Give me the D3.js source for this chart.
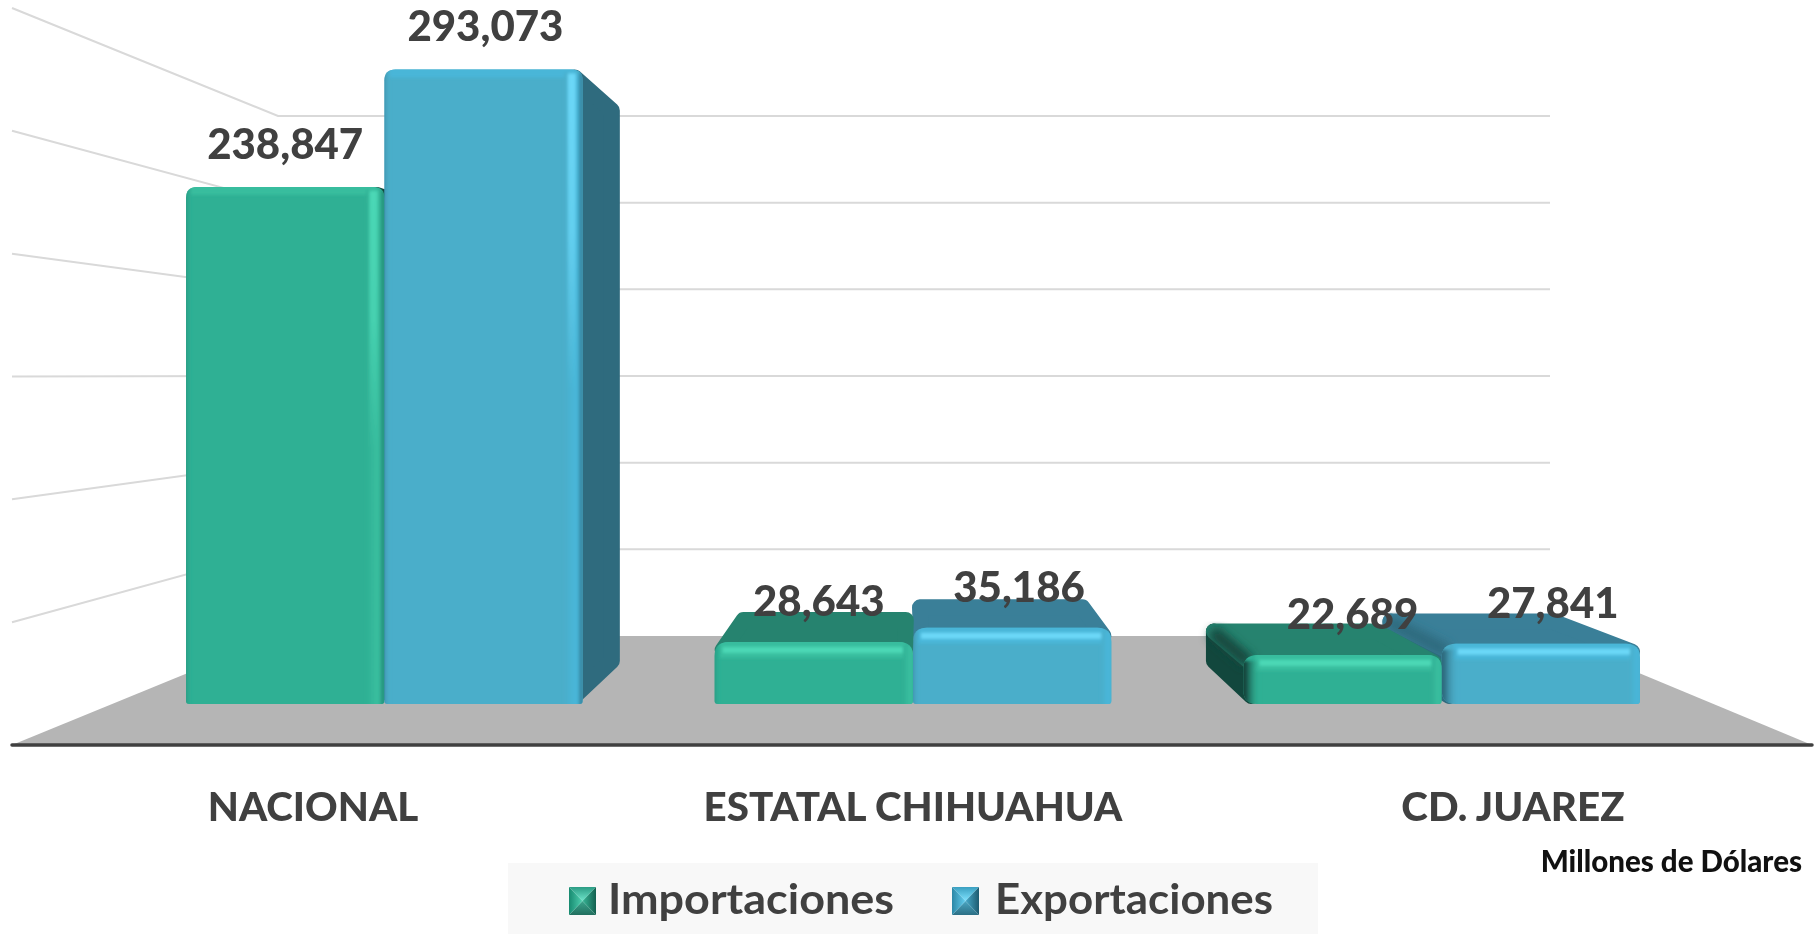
<!DOCTYPE html>
<html><head><meta charset="utf-8">
<script src="https://cdn.jsdelivr.net/npm/d3@7/dist/d3.min.js"></script>
<style>html,body{margin:0;padding:0;background:#fff;overflow:hidden}svg{display:block;filter:blur(0.5px)}text{font-family:Lato,"Open Sans",sans-serif;font-weight:900;fill:#404040}</style>
</head><body><svg id="c" width="1819" height="934"></svg>
<script>
const categories = ["NACIONAL", "ESTATAL CHIHUAHUA", "CD. JUAREZ"];
const seriesNames = ["Importaciones", "Exportaciones"];
const importaciones = [238847, 28643, 22689];
const exportaciones = [293073, 35186, 27841];
const gridTicks = [0, 50000, 100000, 150000, 200000, 250000, 300000];
const unitLabel = "Millones de Dólares";
const palette = {
  Importaciones: {base:"#2fb094", edge:"#38bd9e", hi:"#4bd8b6", top:"#26836f", side:"#12473d", shade:"#1f7f6b", sw:["#2b9c84","#6fe5cb","#226f5f","#3aa58c","#178a70","#4fd0b0","#13604f","#37b596"]},
  Exportaciones: {base:"#4aaeca", edge:"#48b6d8", hi:"#6cd8f8", top:"#3a7f98", side:"#2f6b7e", shade:"#2e6f86", sw:["#3a9fc0","#7fe3ff","#2c6f85","#4aa6c2","#2b87a6","#63cdee","#1e5b70","#46a9c9"]}
};

const svg = d3.select("#c"), defs = svg.append("defs");
const VP = {x:912, y:377}, DEPTH = 0.89;
const wall = {left:12, backL:278, backR:1550, right:1812};
const yBack = d3.scaleLinear().domain([0,300000]).range([636,116]);
const yWall = d3.scaleLinear().domain([0,300000]).range([745,8]);
const yBar  = d3.scaleLinear().domain([0,300000]).range([704,54.5]);
const xCat  = d3.scaleBand().domain(categories).range([186,1640]).paddingInner(0.2495);
const xSer  = d3.scaleBand().domain(seriesNames).range([0,xCat.bandwidth()]);
const xLab  = d3.scalePoint().domain(categories).range([313,1513]);
const back = (x,y)=>[VP.x+(x-VP.x)*DEPTH, VP.y+(y-VP.y)*DEPTH];

defs.append("filter").attr("id","soft").attr("x","-20%").attr("y","-20%").attr("width","140%").attr("height","140%")
  .append("feGaussianBlur").attr("stdDeviation",1.8);
defs.append("filter").attr("id","soft2").attr("x","-40%").attr("y","-40%").attr("width","180%").attr("height","180%")
  .append("feGaussianBlur").attr("stdDeviation",5);

svg.append("polygon").attr("fill","#b5b5b5")
  .attr("points",[[wall.left,yWall(0)],[wall.backL,yBack(0)],[wall.backR,yBack(0)],[wall.right,yWall(0)]].join(" "));
const grid = svg.append("g").attr("stroke","#d9d9d9").attr("stroke-width",2).attr("fill","none");
gridTicks.slice(1).forEach(t=>{
  grid.append("polyline").attr("points",[[wall.left,yWall(t)],[wall.backL,yBack(t)],[wall.backR,yBack(t)]].join(" "));
});
svg.append("line").attr("x1",wall.left).attr("x2",wall.right).attr("y1",yWall(0)).attr("y2",yWall(0))
  .attr("stroke","#404040").attr("stroke-width",3.5).attr("stroke-linecap","round");

function grad(id,dir,stops){
  const g=defs.append("linearGradient").attr("id",id)
    .attr("x1",0).attr("y1",0).attr("x2",dir==="h"?1:0).attr("y2",dir==="h"?0:1);
  stops.forEach(s=>g.append("stop").attr("offset",s[0]).attr("stop-color",s[1]).attr("stop-opacity",s[2]===undefined?1:s[2]));
  return `url(#${id})`;
}
const bars=[];
categories.forEach((c,i)=>{
  seriesNames.forEach((s,j)=>{
    const v=(j===0?importaciones:exportaciones)[i];
    const x0=xCat(c)+xSer(s), x1=x0+xSer.bandwidth();
    bars.push({c,s,v,i,j,x0,x1,top:yBar(v),bottom:yBar(0),col:palette[s]});
  });
});
bars.sort((a,b)=>Math.abs((b.x0+b.x1)/2-VP.x)-Math.abs((a.x0+a.x1)/2-VP.x));

bars.forEach((b,k)=>{
  const g=svg.append("g"), P=b.col;
  const {x0,x1,top,bottom}=b;
  const showTop=top>VP.y, showRight=x1<VP.x-2, showLeft=x0>VP.x+2;
  const ins=8;
  const face=(pts,fill)=>g.append("polygon").attr("points",pts.join(" ")).attr("fill",fill)
     .attr("stroke",fill).attr("stroke-width",16).attr("stroke-linejoin","round");
  if(showRight) face([[x1-ins,top+ins],back(x1-ins,top+ins),back(x1-ins,bottom-ins),[x1-ins,bottom-ins]],P.side);
  if(showLeft)  face([[x0+ins,top+ins],back(x0+ins,top+ins),back(x0+ins,bottom-ins),[x0+ins,bottom-ins]],P.side);
  if(showTop){
    const pts=[[x0+ins,top+ins],back(x0+ins,top+ins),back(x1-ins,top+ins),[x1-ins,top+ins]];
    face(pts,P.top);
    if(showLeft){
      const a=[x0+ins,top+ins], c=back(x0+ins,top+ins);
      const cid=`tc${k}`;
      defs.append("clipPath").attr("id",cid).append("polygon").attr("points",[[x0-60,top+20],[c[0]-20,c[1]-10],[x1,c[1]-10],[x1,top+20]].join(" "));
      g.append("g").attr("clip-path",`url(#${cid})`).append("line")
        .attr("x1",a[0]-2).attr("y1",a[1]).attr("x2",c[0]-2).attr("y2",c[1])
        .attr("stroke",P.side).attr("stroke-width",14).attr("filter","url(#soft2)");
    }
  }

  const r=showTop?14:11, rb=3, rbl=showLeft?14:rb;
  const path=`M${x0},${bottom-rbl}V${top+r}Q${x0},${top} ${x0+r},${top}H${x1-r}Q${x1},${top} ${x1},${top+r}V${bottom-rb}Q${x1},${bottom} ${x1-rb},${bottom}H${x0+rbl}Q${x0},${bottom} ${x0},${bottom-rbl}Z`;
  const clip=`cl${k}`;
  defs.append("clipPath").attr("id",clip).append("path").attr("d",path);
  g.append("path").attr("d",path).attr("fill",P.base);
  const st=g.append("g").attr("clip-path",`url(#${clip})`).append("g").attr("filter","url(#soft)");
  const tw=showTop?16:8;
  st.append("rect").attr("x",x0+(showLeft?12:5)).attr("y",top-4).attr("width",x1-x0-(showLeft?20:12)).attr("height",tw+4)
    .attr("fill",P.edge);
  if(showTop) st.append("rect").attr("x",x0+(showLeft?16:8)).attr("y",top+5).attr("width",x1-x0-(showLeft?26:16)).attr("height",6).attr("fill",P.hi);
  const rw=showRight?18:10;
  st.append("rect").attr("x",x1-rw).attr("y",top+3).attr("width",rw).attr("height",bottom-top)
    .attr("fill",grad(`r${k}`,"h",showRight?[[0,P.base],[0.55,P.edge],[0.7,P.edge],[1,P.shade]]:[[0,P.base],[0.6,P.edge],[1,P.edge]]));
  if(showRight){
    st.append("rect").attr("x",x1-15).attr("y",top+4).attr("width",8).attr("height",(bottom-top)*0.5)
      .attr("fill",grad(`rh${k}`,"v",[[0,P.hi,1],[0.5,P.hi,0.75],[1,P.hi,0]]));
  }
  const lw=showLeft?17:6;
  st.append("rect").attr("x",x0-4).attr("y",top+(showLeft?6:0)).attr("width",lw+4).attr("height",bottom-top+6)
    .attr("fill",grad(`l${k}`,"h",showLeft?[[0,P.side],[0.3,P.side],[1,P.base,0]]:[[0,P.shade,0.95],[1,P.base,0]]));
  const cx=(x0+x1)/2, h=bottom-top;
  b.lx=cx+(cx-285)*0.0095; b.ly=top-25.5-h*0.004;
});
const fmt=d3.format(",");
svg.append("g").selectAll("text").data(bars).join("text")
  .attr("x",b=>b.lx).attr("y",b=>b.ly).attr("text-anchor","middle").attr("font-size",42)
  .text(b=>fmt(b.v));

svg.append("g").selectAll("text").data(categories).join("text")
  .attr("x",c=>xLab(c)).attr("y",821).attr("text-anchor","middle").attr("font-size",40.3)
  .text(c=>c);

svg.append("text").attr("x",1802).attr("y",872).attr("text-anchor","end").attr("font-size",29.5).style("fill","#111").text(unitLabel);

svg.append("rect").attr("x",508).attr("y",863).attr("width",810).attr("height",71).attr("fill","#f8f8f8");
const legX=d3.scaleOrdinal().domain(seriesNames).range([569,952]);
const legLen=d3.scaleOrdinal().domain(seriesNames).range([286,278]);
seriesNames.forEach((s,i)=>{
  const x=legX(s), y=887, w=27, h=28, P=palette[s], cxs=x+w/2, cys=y+h/2;
  const g=svg.append("g");
  const tri=(pts,id,dir,c)=>g.append("polygon").attr("points",pts.join(" ")).attr("fill",grad(`sw${id}${i}`,dir,[[0,c[0]],[1,c[1]]]));
  tri([[x,y],[x+w,y],[cxs,cys]],"t","v",[P.sw[0],P.sw[1]]);
  tri([[x,y+h],[x+w,y+h],[cxs,cys]],"b","v",[P.sw[3],P.sw[2]]);
  tri([[x,y],[x,y+h],[cxs,cys]],"l","h",[P.sw[4],P.sw[5]]);
  tri([[x+w,y],[x+w,y+h],[cxs,cys]],"r","h",[P.sw[7],P.sw[6]]);
  svg.append("text").attr("x",x+39+(i?4:0)).attr("y",914).attr("font-size",42)
    .attr("textLength",legLen(s)).attr("lengthAdjust","spacingAndGlyphs").style("font-weight",700).text(s);
});
</script></body></html>
